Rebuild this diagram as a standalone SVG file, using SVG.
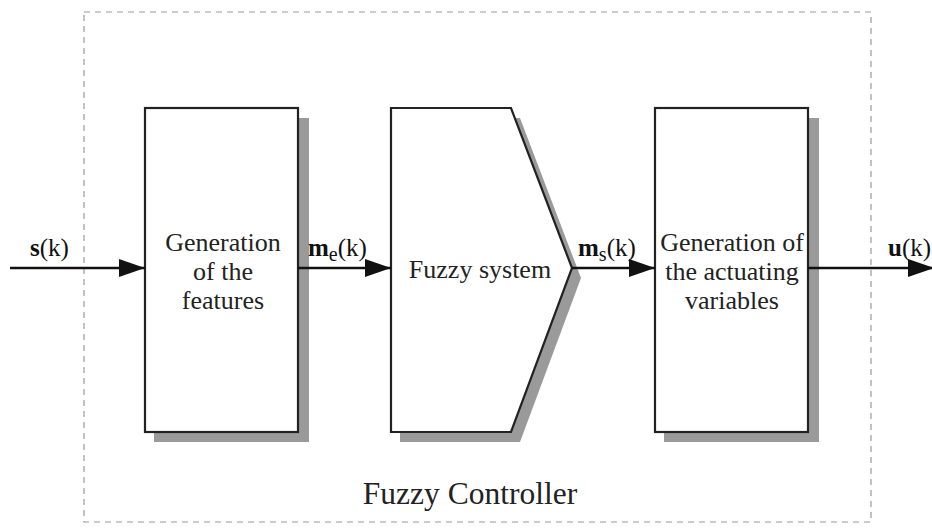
<svg xmlns="http://www.w3.org/2000/svg" width="932" height="528" viewBox="0 0 932 528">
  <style>
    .frame { fill: none; stroke: #999; stroke-width: 1.2; stroke-dasharray: 6 5; }
    .block { fill: #fff; stroke: #222; stroke-width: 2.2; }
    .shadow { fill: #9a9a9a; stroke: none; }
    .wire { stroke: #111; stroke-width: 2.6; fill: none; }
    .txt { font-family: "Liberation Serif", "Times New Roman", serif; font-size: 26px; fill: #222; text-anchor: middle; }
    .sig { font-family: "Liberation Serif", "Times New Roman", serif; font-size: 25px; fill: #111; }
    .title { font-family: "Liberation Serif", "Times New Roman", serif; font-size: 31.5px; fill: #222; text-anchor: middle; }
  </style>
  <defs>
    <marker id="head" viewBox="0 0 26 18" refX="26" refY="9" markerWidth="26" markerHeight="18" markerUnits="userSpaceOnUse" orient="auto">
      <path d="M0,0 L26,9 L0,18 Z" fill="#111"/>
    </marker>
  </defs>

  <rect width="932" height="528" fill="#fff"/>

  <!-- controller boundary -->
  <g id="controller">
    <rect class="frame" x="84" y="12" width="787" height="510"/>
    <text class="title" x="470" y="504">Fuzzy Controller</text>
  </g>

  <!-- feature generation block -->
  <g id="features">
    <rect class="shadow" x="154" y="118" width="155" height="324"/>
    <rect class="block" x="145" y="108" width="153" height="324"/>
    <text class="txt" x="223" y="251">Generation</text>
    <text class="txt" x="223" y="280">of the</text>
    <text class="txt" x="223" y="309">features</text>
  </g>

  <!-- fuzzy system block -->
  <g id="fuzzy">
    <polygon class="shadow" points="400,118 520,118 581,278 520,442 400,442"/>
    <polygon class="block" points="391,108 511,108 572,268 511,432 391,432"/>
    <text class="txt" x="480" y="278">Fuzzy system</text>
  </g>

  <!-- actuating variable block -->
  <g id="actuating">
    <rect class="shadow" x="664" y="118" width="155" height="324"/>
    <rect class="block" x="655" y="108" width="153" height="324"/>
    <text class="txt" x="732" y="251">Generation of</text>
    <text class="txt" x="732" y="280">the actuating</text>
    <text class="txt" x="732" y="309">variables</text>
  </g>

  <!-- signal connectors -->
  <g id="connectors">
    <line class="wire" x1="10" y1="268" x2="145" y2="268" marker-end="url(#head)"/>
    <line class="wire" x1="298" y1="268" x2="391" y2="268" marker-end="url(#head)"/>
    <line class="wire" x1="572" y1="268" x2="655" y2="268" marker-end="url(#head)"/>
    <line class="wire" x1="808" y1="268" x2="934" y2="268" marker-end="url(#head)"/>
  </g>

  <!-- signal labels -->
  <g id="labels">
    <text class="sig" x="30" y="256"><tspan font-weight="bold">s</tspan>(k)</text>
    <text class="sig" x="308" y="256"><tspan font-weight="bold">m</tspan><tspan font-size="20" dy="5">e</tspan><tspan dy="-5">(k)</tspan></text>
    <text class="sig" x="578" y="256"><tspan font-weight="bold">m</tspan><tspan font-size="20" dy="5">s</tspan><tspan dy="-5">(k)</tspan></text>
    <text class="sig" x="888" y="256"><tspan font-weight="bold">u</tspan>(k)</text>
  </g>
</svg>
